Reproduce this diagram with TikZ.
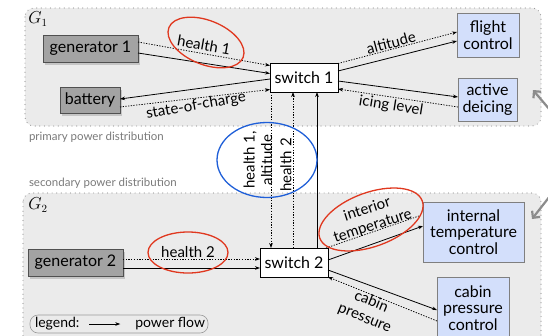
\documentclass[tikz,border=0pt]{standalone}
\usepackage{fontspec}
\setmainfont{Lato}
\usetikzlibrary{arrows.meta,shapes.geometric,shadows}

\definecolor{panel}{HTML}{EBEBEB}
\definecolor{panelline}{HTML}{9A9A9A}
\definecolor{genfill}{HTML}{A3A3A3}
\definecolor{genline}{HTML}{505050}
\definecolor{loadfill}{HTML}{D3DFFB}
\definecolor{loadline}{HTML}{7F7F7F}
\definecolor{ringred}{HTML}{E0381F}
\definecolor{ringblue}{HTML}{1F5FD8}
\definecolor{captiongray}{HTML}{7A7A7A}
\definecolor{feedgray}{HTML}{8C8C8C}

\begin{document}
\begin{tikzpicture}[x=1pt,y=-1pt,
  every node/.style={inner sep=0pt, outer sep=0pt},
  panelbox/.style={draw=panelline, fill=panel, line width=1.2pt,
    dash pattern=on 0.01pt off 4.6pt, line cap=round, rounded corners=9pt},
  caption/.style={text=captiongray, font=\fontsize{11.5}{12}\selectfont, anchor=west},
  glabel/.style={font=\fontsize{16}{16}\selectfont},
  nodefont/.style={font=\fontsize{16}{16.5}\selectfont, align=center},
  genbox/.style={nodefont, draw=genline, fill=genfill, line width=0.6pt,
    drop shadow={shadow xshift=2pt, shadow yshift=-2.5pt, opacity=0.35}},
  switchbox/.style={nodefont, draw=black, fill=white, line width=0.7pt},
  loadbox/.style={nodefont, draw=loadline, fill=loadfill, line width=0.6pt},
  lbl/.style={font=\fontsize{15}{17.5}\selectfont, align=center},
  power/.style={draw=black, line width=0.8pt, -{Stealth[length=5pt,width=3.6pt]}},
  info/.style={draw=black, line width=0.75pt, dash pattern=on 1.3pt off 1.4pt,
    -{Stealth[length=5pt,width=3.6pt]}},
  infoplain/.style={draw=black, line width=0.75pt, dash pattern=on 1.3pt off 1.4pt},
  ring/.style={draw=#1, line width=1.3pt, ellipse, fill=none},
  feed/.style={draw=feedgray, line width=2.2pt,
    -{Straight Barb[length=5pt,width=10pt]}},
  legendbox/.style={draw=panelline, fill=panel, line width=0.6pt, rounded corners=8pt}
]
\useasboundingbox (0,0) rectangle (548,335);
\fill[white] (0,0) rectangle (548,335);

% the two distribution areas
\draw[panelbox] (25,8) rectangle (541,126);
\draw[panelbox] (23,193) rectangle (541,350);
\node[caption] (capA) at (29,137) {primary power distribution};
\node[caption] (capB) at (29,183) {secondary power distribution};
\node[glabel] (gA) at (38,19) {$G_1$};
\node[glabel] (gB) at (38,205) {$G_2$};

% components of G1
\node[genbox, minimum width=95pt, minimum height=27pt] (gen1) at (90.5,48.5) {generator 1};
\node[genbox, minimum width=60pt, minimum height=26pt] (bat) at (90,100) {battery};
\node[switchbox, minimum width=68pt, minimum height=29pt] (sw1) at (304,77.5) {switch 1};
\node[loadbox, minimum width=62pt, minimum height=44pt] (flt) at (488,35) {flight\\control};
\node[loadbox, minimum width=59pt, minimum height=43pt] (dei) at (487.5,99.5) {active\\deicing};

% components of G2
\node[genbox, minimum width=95pt, minimum height=27pt] (gen2) at (75.5,262.5) {generator 2};
\node[switchbox, minimum width=68pt, minimum height=29pt] (sw2) at (294,262.5) {switch 2};
\node[loadbox, minimum width=101pt, minimum height=60pt] (itc) at (473.5,232) {internal\\temperature\\control};
\node[loadbox, minimum width=72pt, minimum height=62pt] (cpc) at (473,308) {cabin\\pressure\\control};

% connections inside G1
\draw[info]  ([yshift=6.5pt]gen1.east) -- ([yshift=12pt]sw1.west);
\draw[power] ([yshift=-4.5pt]gen1.east) -- ([yshift=4pt]sw1.west);
\draw[power] ([yshift=-1.5pt]sw1.west) -- ([yshift=1pt]bat.east);
\draw[info]  ([yshift=-7pt]bat.east) -- ([yshift=-12pt]sw1.west);
\draw[info]  ([yshift=14pt]sw1.east) -- ([yshift=3pt]flt.west);
\draw[power] ([yshift=6.5pt]sw1.east) -- ([yshift=-6pt]flt.west);
\draw[power] ([yshift=-3.5pt]sw1.east) -- ([yshift=2.5pt]dei.west);
\draw[info]  ([yshift=-7.5pt]dei.west) -- ([yshift=-11.5pt]sw1.east);

% links between the two switches
\draw[info]  ([xshift=1pt]sw1.south west) -- ([xshift=1pt]sw1.south west |- sw2.north);
\draw[info]  ([xshift=-1pt]sw2.north) -- ([xshift=-1pt]sw2.north |- sw1.south);
\draw[power] ([xshift=23pt]sw2.north) -- ([xshift=23pt]sw2.north |- sw1.south);

% connections inside G2
\draw[info]  ([yshift=3.5pt]gen2.east) -- ([yshift=3.5pt]sw2.west);
\draw[power] ([yshift=-5.5pt]gen2.east) -- ([yshift=-5.5pt]sw2.west);
\draw[power] ([yshift=2.5pt]sw2.east) -- ([yshift=6pt]itc.west);
\draw[infoplain] ([xshift=-2pt]sw2.north east) -- ([xshift=-4pt,yshift=16pt]itc.west);
\draw[power] ([yshift=-7.5pt]sw2.east) -- ([yshift=-2pt]cpc.west);
\draw[info]  ([yshift=-13pt]cpc.west) -- ([yshift=-14.5pt]sw2.east);

% signal labels
\node[lbl, rotate=-10] (lhA) at (204,45) {health 1};
\node[lbl, rotate=10] (lsoc) at (196,106) {state-of-charge};
\node[lbl, rotate=15] (lalt) at (391,43) {altitude};
\node[lbl, rotate=-9] (lice) at (391,106) {icing level};
\node[lbl, rotate=90] (lhAalt) at (258,160) {health 1,\\altitude};
\node[lbl, rotate=90] (lhB) at (286,165) {health 2};
\node[lbl] (lhBgen) at (188,252) {health 2};
\node[lbl, rotate=18] (ltemp) at (370,218) {interior\\temperature};
\node[lbl, rotate=-22] (lcab) at (368,310) {cabin\\pressure};

% highlighted signals
\node[ring=ringred, minimum width=80pt, minimum height=44pt, rotate=-22] (ringA) at (206,42.5) {};
\node[ring=ringblue, minimum width=100pt, minimum height=75pt] (ringB) at (267,160) {};
\node[ring=ringred, minimum width=80pt, minimum height=41pt] (ringC) at (188,252.5) {};
\node[ring=ringred, minimum width=109pt, minimum height=54pt, rotate=20] (ringD) at (371,219.5) {};

% legend
\draw[legendbox] (30,315) rectangle (208,333);
\node[font=\fontsize{14}{14}\selectfont, anchor=west] (lgA) at (35,324) {legend:};
\node[font=\fontsize{14}{14}\selectfont, anchor=east] (lgB) at (205,324) {power flow};
\draw[power] ([xshift=10pt]lgA.east) -- ([xshift=-15pt]lgB.west);

% feedback arrows entering from the right
\coordinate (fromA) at (550,110);
\coordinate (toA) at (533,90);
\coordinate (fromB) at (550,196);
\coordinate (toB) at (532,219);
\draw[feed] (fromA) -- (toA);
\draw[feed] (fromB) -- (toB);
\end{tikzpicture}
\end{document}
